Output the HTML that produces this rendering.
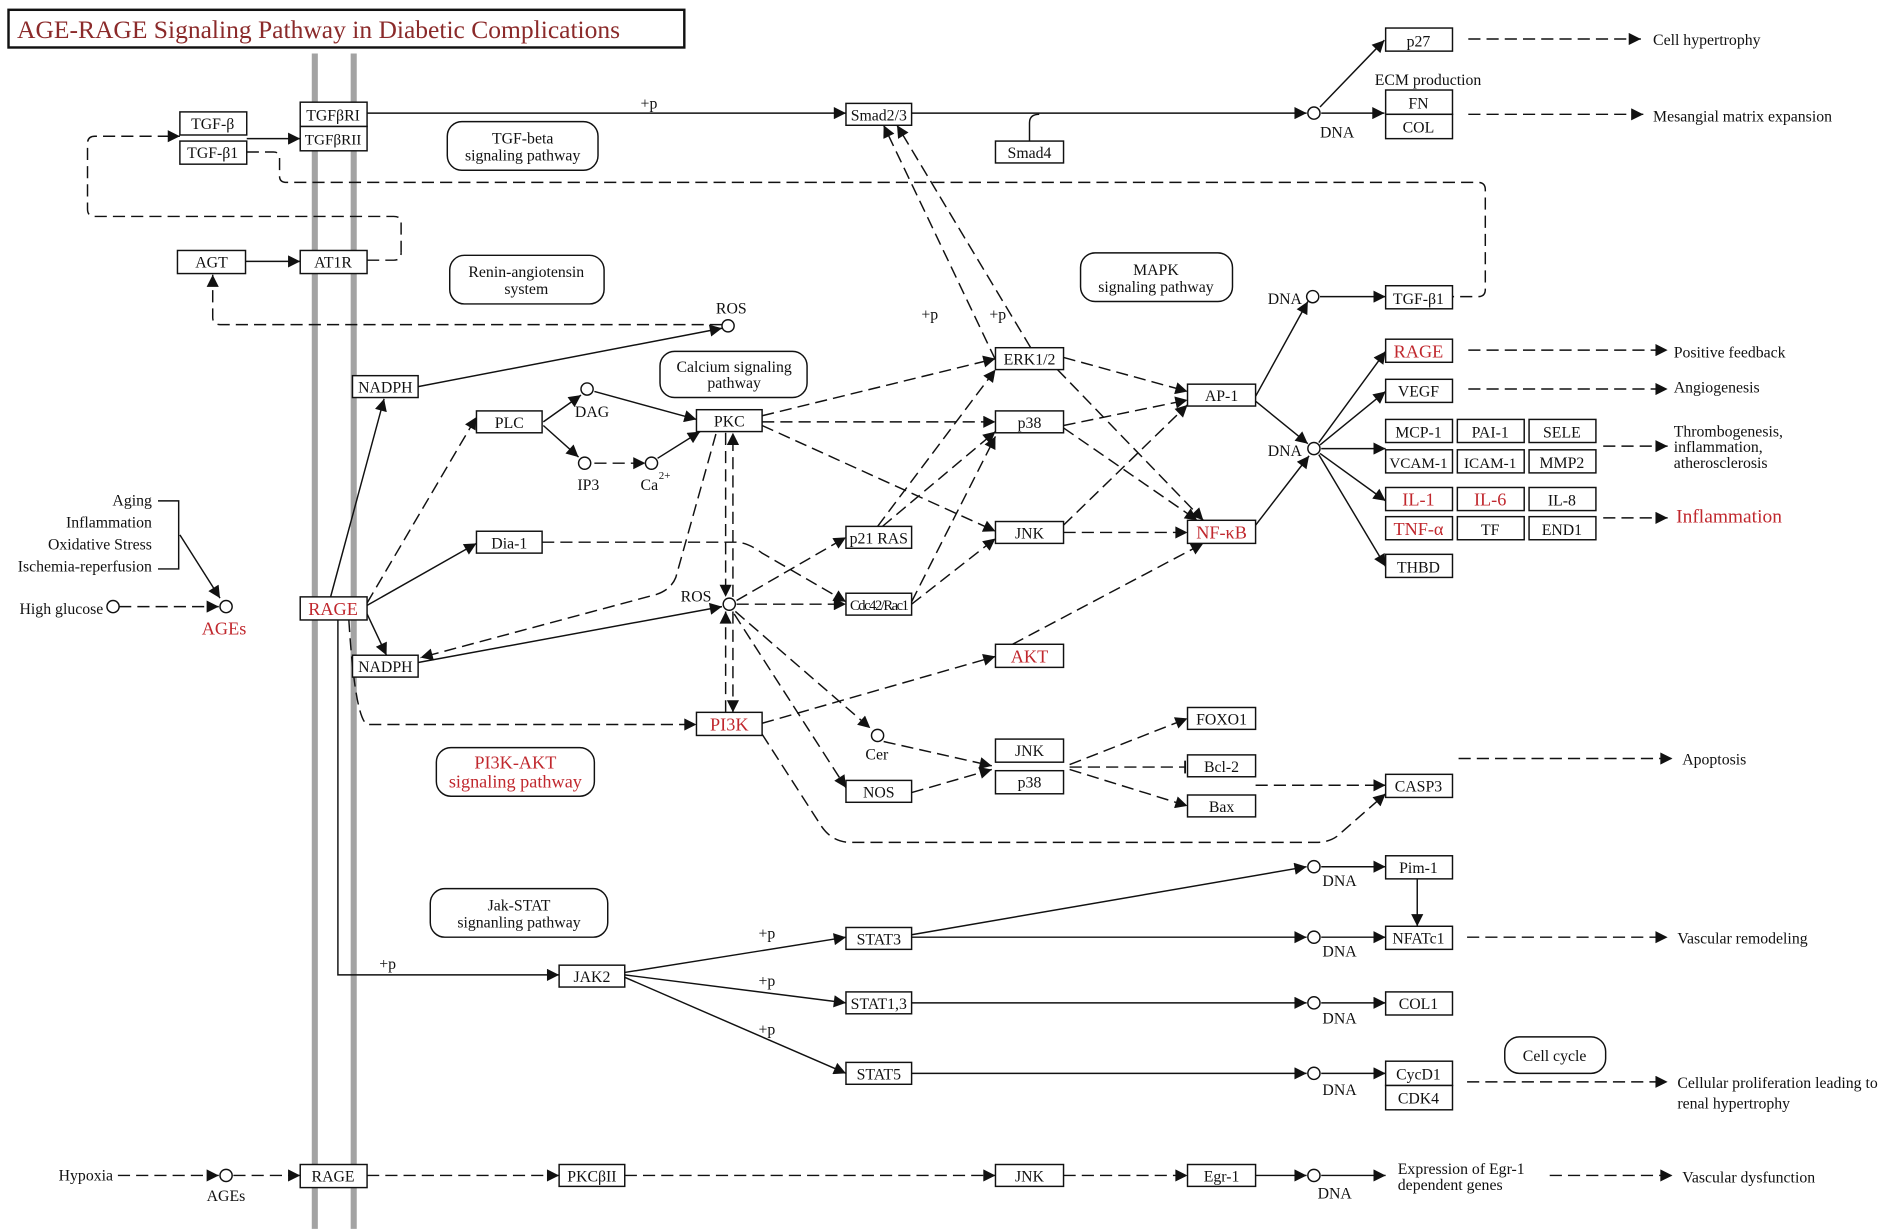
<!DOCTYPE html>
<html><head><meta charset="utf-8"><style>
html,body{margin:0;padding:0;background:#fff;}
svg{display:block;}
text{font-family:"Liberation Serif",serif;font-size:13px;fill:#111;}
.b rect{fill:#fff;stroke:#111;stroke-width:1.2;}
.r{fill:#c0272d;}
.s{fill:none;stroke:#111;stroke-width:1.2;}
.d{fill:none;stroke:#111;stroke-width:1.2;stroke-dasharray:10 5;}
.c{fill:#fff;stroke:#111;stroke-width:1.2;}
.p{fill:#fff;stroke:#111;stroke-width:1.2;}
</style></head><body>
<svg width="1901" height="1229" viewBox="0 0 1564 1011" xmlns="http://www.w3.org/2000/svg">
<defs>
<marker id="a" viewBox="0 0 10 10" refX="10" refY="5" markerWidth="13" markerHeight="10" markerUnits="userSpaceOnUse" orient="auto"><path d="M0,0L10,5L0,10z" fill="#111"/></marker>
<marker id="t" viewBox="0 0 4 14" refX="2" refY="7" markerWidth="3" markerHeight="14" markerUnits="userSpaceOnUse" orient="auto"><path d="M2,0V14" stroke="#111" stroke-width="2"/></marker>
</defs>
<rect width="1564" height="1011" fill="#fff"/>
<rect x="7" y="8" width="556" height="31" fill="#fff" stroke="#111" stroke-width="2"/>
<text x="14" y="31" style="font-size:21px;fill:#8b2a2a">AGE-RAGE Signaling Pathway in Diabetic Complications</text>
<line x1="259" y1="44" x2="259" y2="1011" stroke="#a3a3a3" stroke-width="5"/>
<line x1="291" y1="44" x2="291" y2="1011" stroke="#a3a3a3" stroke-width="5"/>

<g class="s" marker-end="url(#a)">
<path d="M302,93H696"/>
<path d="M750,93H1075"/>
<path d="M1086,88L1139,33"/>
<path d="M1087,93H1139"/>
<path d="M203,114H247"/>
<path d="M202,215H247"/>
<path d="M344,318L594,270"/>
<path d="M272,491L316,328"/>
<path d="M302,498L392,447"/>
<path d="M302,505L318,539"/>
<path d="M278,510V802H460"/>
<path d="M447,347L478,325"/>
<path d="M447,350L476,376"/>
<path d="M489,322L573,345"/>
<path d="M541,377L576,355"/>
<path d="M344,545L594,499"/>
<path d="M1033,326L1076,248"/>
<path d="M1033,330L1076,365"/>
<path d="M1033,432L1077,375"/>
<path d="M1086,244H1140"/>
<path d="M1085,364L1140,289"/>
<path d="M1086,366L1140,322"/>
<path d="M1087,369H1140"/>
<path d="M1086,373L1140,412"/>
<path d="M1085,374L1140,466"/>
<path d="M514,800L696,771"/>
<path d="M514,802L696,825"/>
<path d="M514,804L696,883"/>
<path d="M750,769L1075,713"/>
<path d="M750,771H1075"/>
<path d="M750,825H1075"/>
<path d="M750,883H1075"/>
<path d="M1087,713H1140"/>
<path d="M1166,723V762"/>
<path d="M1087,771H1140"/>
<path d="M1087,825H1140"/>
<path d="M1087,883H1140"/>
<path d="M1033,967H1075"/>
<path d="M1087,967H1140"/>
<path d="M148,440L181,492"/>
</g>
<path class="s" d="M847,116V101Q847,94 855,94"/>
<path class="s" d="M130,412H147V468H130"/>

<g class="d" marker-end="url(#a)">
<path d="M330,208V183Q330,178 324,178H78Q72,178 72,172V118Q72,112 78,112H148"/>
<path d="M594,267H181Q175,267 175,261V226"/>
<path d="M302,496L392,343"/>
<path d="M287,510Q292,590 302,596H573"/>
<path d="M489,381H531"/>
<path d="M627,342L819,295"/>
<path d="M627,347H819"/>
<path d="M627,350L819,437"/>
<path d="M597,356V491"/>
<path d="M603,491V356"/>
<path d="M603,503V586"/>
<path d="M597,586V503"/>
<path d="M589,357L556,475Q552,485 540,489L346,541"/>
<path d="M446,446H605Q615,446 627,455L696,495"/>
<path d="M606,494L696,442"/>
<path d="M606,497H696"/>
<path d="M605,503L716,599"/>
<path d="M604,505L696,648"/>
<path d="M627,604L676,680Q685,693 700,693H1083Q1093,693 1100,688L1140,653"/>
<path d="M627,595L819,540"/>
<path d="M833,530L990,447"/>
<path d="M722,433L819,304"/>
<path d="M726,433L819,355"/>
<path d="M750,495L819,359"/>
<path d="M750,497L819,443"/>
<path d="M875,294L977,322"/>
<path d="M870,304L990,428"/>
<path d="M875,350L977,329"/>
<path d="M875,352L985,428"/>
<path d="M875,432L977,333"/>
<path d="M875,438H977"/>
<path d="M848,286L738,103"/>
<path d="M819,296L727,103"/>
<path d="M727,610L816,630"/>
<path d="M750,652L816,633"/>
<path d="M880,629L977,591"/>
<path d="M880,633L977,663"/>
<path d="M1033,646H1140"/>
<path d="M1208,32H1350"/>
<path d="M1208,94H1352"/>
<path d="M1208,288H1372"/>
<path d="M1208,320H1372"/>
<path d="M1319,367H1372"/>
<path d="M1319,426H1372"/>
<path d="M1200,624H1376"/>
<path d="M1207,771H1372"/>
<path d="M1207,890H1372"/>
<path d="M97,967H180"/>
<path d="M192,967H247"/>
<path d="M302,967H460"/>
<path d="M514,967H819"/>
<path d="M875,967H977"/>
<path d="M1275,967H1376"/>
<path d="M98,499H180"/>
</g>
<path class="d" d="M203,125H225Q230,125 230,130V145Q230,150 236,150H1216Q1222,150 1222,156V238Q1222,244 1216,244H1195"/>
<path class="d" d="M302,214H324Q330,214 330,208"/>
<path class="d" d="M880,631H975" marker-end="url(#t)"/>

<g class="c">
<circle cx="1081" cy="93" r="5"/><circle cx="599" cy="268" r="5"/><circle cx="483" cy="320" r="5"/>
<circle cx="481" cy="381" r="5"/><circle cx="536" cy="381" r="5"/><circle cx="186" cy="499" r="5"/>
<circle cx="93" cy="499" r="5"/><circle cx="600" cy="497" r="5"/><circle cx="722" cy="605" r="5"/>
<circle cx="1080" cy="244" r="5"/><circle cx="1081" cy="369" r="5"/><circle cx="1081" cy="713" r="5"/>
<circle cx="1081" cy="771" r="5"/><circle cx="1081" cy="825" r="5"/><circle cx="1081" cy="883" r="5"/>
<circle cx="1081" cy="967" r="5"/><circle cx="186" cy="967" r="5"/>
</g>

<g class="p">
<rect x="368" y="100" width="124" height="40" rx="12"/>
<rect x="370" y="210" width="127" height="40" rx="12"/>
<rect x="543" y="289" width="121" height="38" rx="12"/>
<rect x="889" y="208" width="125" height="40" rx="12"/>
<rect x="359" y="615" width="130" height="40" rx="12"/>
<rect x="354" y="731" width="146" height="40" rx="12"/>
<rect x="1238" y="853" width="83" height="30" rx="12"/>
</g>
<g text-anchor="middle">
<text x="430" y="118">TGF-beta</text><text x="430" y="132">signaling pathway</text>
<text x="433" y="228">Renin-angiotensin</text><text x="433" y="242">system</text>
<text x="604" y="306">Calcium signaling</text><text x="604" y="319">pathway</text>
<text x="951" y="226">MAPK</text><text x="951" y="240">signaling pathway</text>
<text x="424" y="632" class="r" style="font-size:15px">PI3K-AKT</text><text x="424" y="648" class="r" style="font-size:15px">signaling pathway</text>
<text x="427" y="749">Jak-STAT</text><text x="427" y="763">signanling pathway</text>
<text x="1279" y="873">Cell cycle</text>
</g>

<g class="b">
<rect x="148" y="92" width="55" height="19"/><rect x="148" y="116" width="55" height="19"/>
<rect x="247" y="84" width="55" height="20"/><rect x="247" y="104" width="55" height="20"/>
<rect x="146" y="206" width="56" height="19"/><rect x="247" y="206" width="55" height="19"/>
<rect x="696" y="85" width="54" height="18"/><rect x="819" y="116" width="56" height="18"/>
<rect x="1140" y="23" width="55" height="19"/><rect x="1140" y="74" width="55" height="20"/><rect x="1140" y="94" width="55" height="20"/>
<rect x="1140" y="235" width="55" height="19"/><rect x="1140" y="279" width="55" height="19"/><rect x="1140" y="312" width="55" height="19"/>
<rect x="1140" y="345" width="55" height="19"/><rect x="1199" y="345" width="55" height="19"/><rect x="1258" y="345" width="55" height="19"/>
<rect x="1140" y="370" width="55" height="19"/><rect x="1199" y="370" width="55" height="19"/><rect x="1258" y="370" width="55" height="19"/>
<rect x="1140" y="401" width="55" height="19"/><rect x="1199" y="401" width="55" height="19"/><rect x="1258" y="401" width="55" height="19"/>
<rect x="1140" y="425" width="55" height="19"/><rect x="1199" y="425" width="55" height="19"/><rect x="1258" y="425" width="55" height="19"/>
<rect x="1140" y="456" width="55" height="19"/>
<rect x="290" y="309" width="54" height="18"/><rect x="392" y="338" width="54" height="18"/><rect x="573" y="337" width="54" height="18"/>
<rect x="819" y="286" width="56" height="18"/><rect x="819" y="338" width="56" height="18"/><rect x="977" y="316" width="56" height="18"/>
<rect x="819" y="429" width="56" height="18"/><rect x="977" y="428" width="56" height="19"/>
<rect x="392" y="437" width="54" height="18"/><rect x="696" y="433" width="54" height="18"/><rect x="696" y="488" width="54" height="18"/>
<rect x="247" y="491" width="55" height="19"/><rect x="290" y="539" width="54" height="18"/>
<rect x="819" y="530" width="56" height="19"/><rect x="573" y="586" width="54" height="19"/>
<rect x="977" y="582" width="56" height="18"/><rect x="819" y="608" width="56" height="19"/><rect x="819" y="634" width="56" height="19"/>
<rect x="977" y="621" width="56" height="18"/><rect x="977" y="654" width="56" height="18"/><rect x="1140" y="637" width="55" height="19"/>
<rect x="696" y="642" width="54" height="18"/>
<rect x="1140" y="704" width="55" height="19"/><rect x="1140" y="762" width="55" height="19"/><rect x="1140" y="816" width="55" height="19"/>
<rect x="1140" y="873" width="55" height="20"/><rect x="1140" y="893" width="55" height="20"/>
<rect x="696" y="763" width="54" height="18"/><rect x="696" y="816" width="54" height="18"/><rect x="696" y="874" width="54" height="18"/>
<rect x="460" y="794" width="54" height="18"/>
<rect x="247" y="958" width="55" height="19"/><rect x="460" y="958" width="54" height="18"/>
<rect x="819" y="958" width="56" height="18"/><rect x="977" y="958" width="56" height="18"/>
</g>
<g text-anchor="middle">
<text x="175" y="106">TGF-β</text><text x="175" y="130">TGF-β1</text>
<text x="274" y="99">TGFβRI</text><text x="274" y="119" style="font-size:12.5px">TGFβRII</text>
<text x="174" y="220">AGT</text><text x="274" y="220">AT1R</text>
<text x="723" y="99">Smad2/3</text><text x="847" y="130">Smad4</text>
<text x="1167" y="38">p27</text><text x="1167" y="89">FN</text><text x="1167" y="109">COL</text>
<text x="1167" y="250">TGF-β1</text><text x="1167" y="294" class="r" style="font-size:15px">RAGE</text><text x="1167" y="326">VEGF</text>
<text x="1167" y="360">MCP-1</text><text x="1226" y="360">PAI-1</text><text x="1285" y="360">SELE</text>
<text x="1167" y="385" style="font-size:12.5px">VCAM-1</text><text x="1226" y="385" style="font-size:12.5px">ICAM-1</text><text x="1285" y="385">MMP2</text>
<text x="1167" y="416" class="r" style="font-size:15px">IL-1</text><text x="1226" y="416" class="r" style="font-size:15px">IL-6</text><text x="1285" y="416">IL-8</text>
<text x="1167" y="440" class="r" style="font-size:15px">TNF-α</text><text x="1226" y="440">TF</text><text x="1285" y="440">END1</text>
<text x="1167" y="471">THBD</text>
<text x="317" y="323">NADPH</text><text x="419" y="352">PLC</text><text x="600" y="351">PKC</text>
<text x="847" y="300">ERK1/2</text><text x="847" y="352">p38</text><text x="1005" y="330">AP-1</text>
<text x="847" y="443">JNK</text><text x="1005" y="443" class="r" style="font-size:15px">NF-κB</text>
<text x="419" y="451">Dia-1</text><text x="723" y="447">p21 RAS</text><text x="723" y="502" style="font-size:12px;letter-spacing:-1.2px">Cdc42/Rac1</text>
<text x="274" y="506" class="r" style="font-size:15px">RAGE</text><text x="317" y="553">NADPH</text>
<text x="847" y="545" class="r" style="font-size:15px">AKT</text><text x="600" y="601" class="r" style="font-size:15px">PI3K</text>
<text x="1005" y="596">FOXO1</text><text x="847" y="622">JNK</text><text x="847" y="648">p38</text>
<text x="1005" y="635">Bcl-2</text><text x="1005" y="668">Bax</text><text x="1167" y="651">CASP3</text>
<text x="723" y="656">NOS</text>
<text x="1167" y="718">Pim-1</text><text x="1167" y="776">NFATc1</text><text x="1167" y="830">COL1</text>
<text x="1167" y="888">CycD1</text><text x="1167" y="908">CDK4</text>
<text x="723" y="777">STAT3</text><text x="723" y="830">STAT1,3</text><text x="723" y="888">STAT5</text>
<text x="487" y="808">JAK2</text>
<text x="274" y="972">RAGE</text><text x="487" y="972">PKCβII</text><text x="847" y="972">JNK</text><text x="1005" y="972">Egr-1</text>
</g>

<text x="1131" y="70">ECM production</text>
<text x="527" y="89">+p</text><text x="758" y="263">+p</text><text x="814" y="263">+p</text>
<text x="312" y="797">+p</text><text x="624" y="772">+p</text><text x="624" y="811">+p</text><text x="624" y="851">+p</text>
<text x="1086" y="113">DNA</text><text x="1043" y="250">DNA</text><text x="1043" y="375">DNA</text>
<text x="1088" y="729">DNA</text><text x="1088" y="787">DNA</text><text x="1088" y="842">DNA</text><text x="1088" y="901">DNA</text><text x="1084" y="986">DNA</text>
<text x="589" y="258">ROS</text><text x="560" y="495">ROS</text>
<text x="473" y="343">DAG</text><text x="475" y="403">IP3</text><text x="527" y="403">Ca</text><text x="542" y="394" style="font-size:9px">2+</text>
<text x="712" y="625">Cer</text>
<g text-anchor="end">
<text x="125" y="416">Aging</text><text x="125" y="434">Inflammation</text><text x="125" y="452">Oxidative Stress</text><text x="125" y="470">Ischemia-reperfusion</text>
<text x="85" y="505">High glucose</text><text x="93" y="971">Hypoxia</text>
</g>
<text x="166" y="522" class="r" style="font-size:15px">AGEs</text>
<text x="170" y="988">AGEs</text>
<text x="1360" y="37">Cell hypertrophy</text>
<text x="1360" y="100">Mesangial matrix expansion</text>
<text x="1377" y="294">Positive feedback</text>
<text x="1377" y="323">Angiogenesis</text>
<text x="1377" y="359">Thrombogenesis,</text><text x="1377" y="372">inflammation,</text><text x="1377" y="385">atherosclerosis</text>
<text x="1379" y="430" class="r" style="font-size:16px">Inflammation</text>
<text x="1384" y="629">Apoptosis</text>
<text x="1380" y="776">Vascular remodeling</text>
<text x="1380" y="895">Cellular proliferation leading to</text><text x="1380" y="912">renal hypertrophy</text>
<text x="1150" y="966">Expression of Egr-1</text><text x="1150" y="979">dependent genes</text>
<text x="1384" y="973">Vascular dysfunction</text>
</svg>
</body></html>
